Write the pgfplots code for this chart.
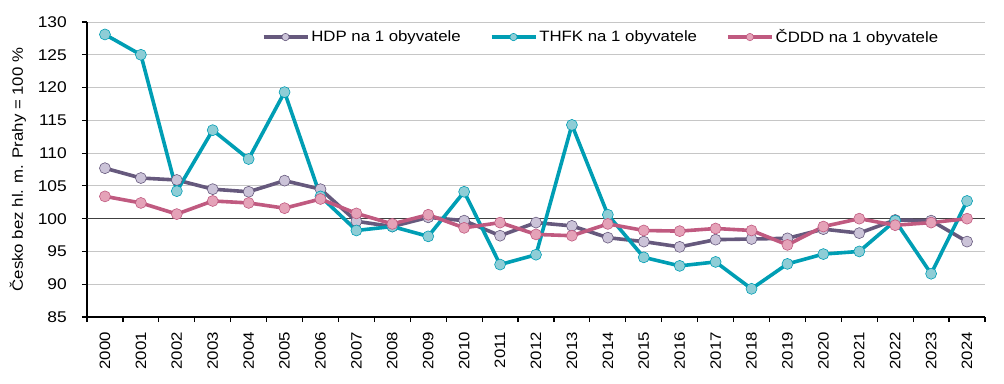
\documentclass[border=0pt]{standalone}
\usepackage{fontspec}
\setmainfont[FakeStretch=1.12]{Liberation Sans}
\usepackage{pgfplots}
\pgfplotsset{compat=1.18}

\definecolor{hdpline}{HTML}{66597D}
\definecolor{hdpfill}{HTML}{CBC3D8}
\definecolor{thfkline}{HTML}{009EB4}
\definecolor{thfkfill}{HTML}{8ECDD6}
\definecolor{cdddline}{HTML}{C05A80}
\definecolor{cdddfill}{HTML}{E5A2B8}

\pgfplotstableread{
x  hdp    thfk   cddd
0  107.7  128.1  103.4
1  106.2  125.0  102.4
2  105.9  104.2  100.7
3  104.5  113.5  102.7
4  104.1  109.1  102.4
5  105.8  119.3  101.6
6  104.5  103.4  103.0
7  99.6   98.2   100.8
8  98.8   98.8   99.2
9  100.2  97.3   100.6
10 99.7   104.1  98.6
11 97.4   93.0   99.4
12 99.4   94.5   97.6
13 98.9   114.3  97.4
14 97.1   100.6  99.2
15 96.5   94.1   98.2
16 95.7   92.8   98.1
17 96.8   93.4   98.5
18 96.9   89.3   98.2
19 97.0   93.1   96.0
20 98.4   94.6   98.8
21 97.8   95.0   100.0
22 99.8   99.7   99.0
23 99.7   91.6   99.4
24 96.5   102.7  100.0
}\datatable

\begin{document}
\fontsize{15bp}{18bp}\selectfont
\begin{tikzpicture}
\useasboundingbox (-87bp,-67bp) rectangle (917bp,317bp);
\begin{axis}[
  at={(0,0)}, anchor=south west,
  scale only axis,
  width=898bp, height=295bp,
  xmin=-0.5, xmax=24.5,
  ymin=85, ymax=130,
  ytick={85,90,...,130},
  xtick={0,...,24},
  xticklabels={2000,2001,2002,2003,2004,2005,2006,2007,2008,2009,2010,2011,2012,2013,2014,2015,2016,2017,2018,2019,2020,2021,2022,2023,2024},
  x tick label style={yshift=-5bp, rotate=90, anchor=east, font=\fontsize{15bp}{18bp}\selectfont},
  y tick label style={xshift=-10bp, font=\fontsize{15.5bp}{18bp}\selectfont},
  /pgf/number format/assume math mode=true,
  major x tick style={draw=none},
  minor xtick={-0.5,0.5,...,24.5},
  minor x tick style={black, line width=1.2pt},
  minor tick length=5bp,
  major tick length=5bp,
  xtick pos=bottom, ytick pos=left,
  tick align=outside,
  y tick style={black, line width=1.2pt},
  axis x line*=bottom, axis y line*=left,
  axis line style={black, line width=1.6pt},
  ymajorgrids, grid style={gray!45, line width=0.8pt},
  ylabel={Česko bez hl. m. Prahy = 100 \%},
  ylabel style={font=\fontsize{15bp}{18bp}\selectfont, at={(axis description cs:0,0.5)}, anchor=center, yshift=69bp},
  clip=false,
  legend columns=3,
  legend style={at={(rel axis cs:0.191,0.949)}, anchor=west, draw=none, fill=none,
    font=\fontsize{15bp}{18bp}\selectfont,
    /tikz/every even column/.append style={column sep=27bp}},
  legend cell align=left,
  legend image code/.code={%
    \draw[mark repeat=2, mark phase=2, mark size=3.7bp] plot coordinates {(0bp,0bp) (22bp,0bp) (44bp,0bp)};},
  every axis plot/.append style={line width=3.6bp, mark=*, mark size=5.5bp},
]
\draw[black!75, line width=1.2pt] (axis cs:-0.5,100) -- (axis cs:24.5,100);
\addplot[color=hdpline, mark options={fill=hdpfill, draw=hdpline, line width=0.6pt}] table[x=x, y=hdp] {\datatable};
\addlegendentry{HDP na 1 obyvatele}
\addplot[color=thfkline, mark options={fill=thfkfill, draw=thfkline, line width=0.6pt}] table[x=x, y=thfk] {\datatable};
\addlegendentry{THFK na 1 obyvatele}
\addplot[color=cdddline, mark options={fill=cdddfill, draw=cdddline, line width=0.6pt}] table[x=x, y=cddd] {\datatable};
\addlegendentry{ČDDD na 1 obyvatele}
\end{axis}
\end{tikzpicture}
\end{document}
